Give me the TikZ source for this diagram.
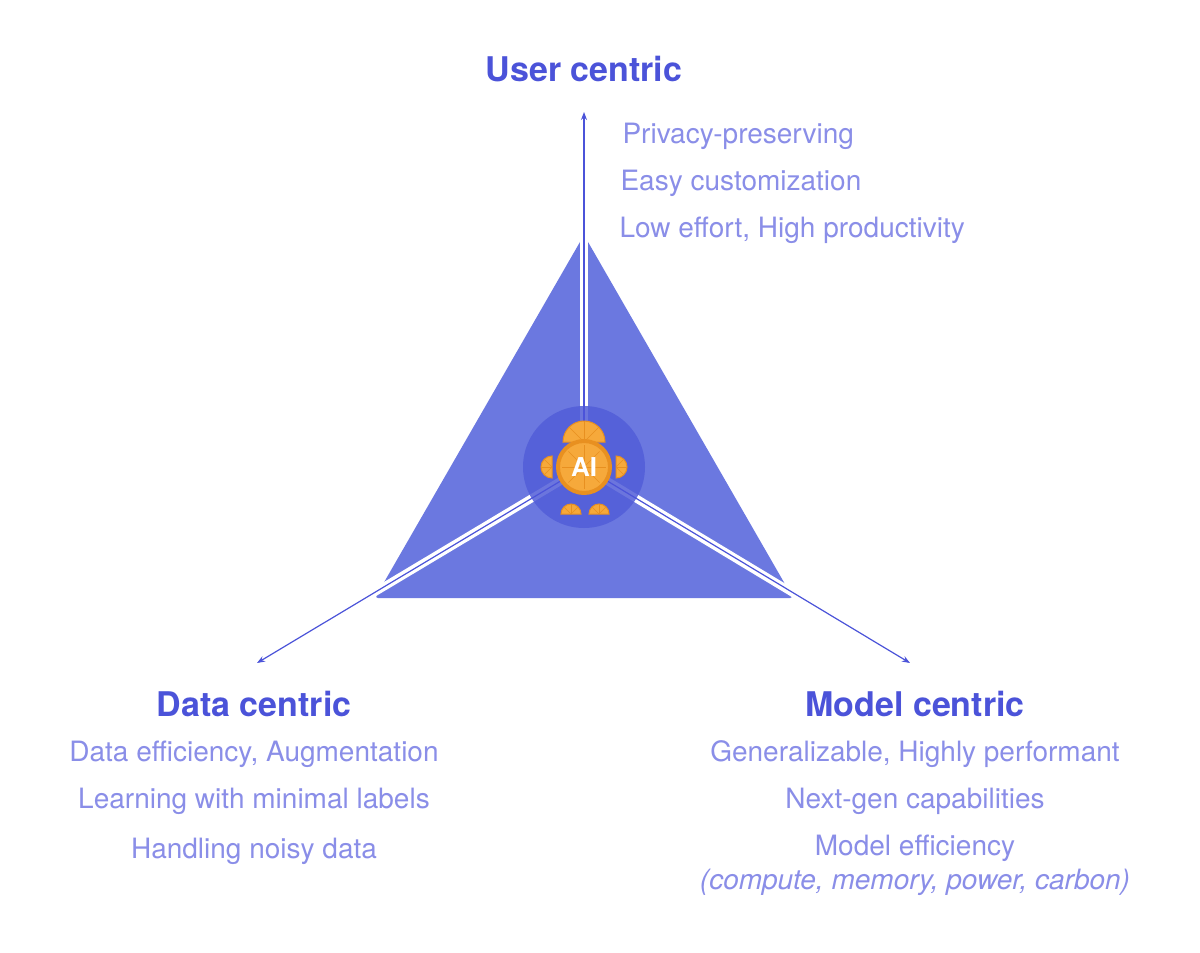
\documentclass[tikz,border=0pt]{standalone}
\usepackage{fontspec}
\setmainfont{TeX Gyre Heros}
\usetikzlibrary{arrows.meta}
\definecolor{tri}{HTML}{6B78E0}
\definecolor{ttl}{HTML}{4B53D9}
\definecolor{txt}{HTML}{8A8EE8}
\definecolor{circ}{HTML}{525DD8}
\definecolor{org}{HTML}{F6A93B}
\definecolor{orgd}{HTML}{E89020}
\tikzset{
 ttlnode/.style={text=ttl,font=\fontsize{34}{38}\selectfont\bfseries},
 txtnode/.style={text=txt,font=\fontsize{28}{32}\selectfont,align=center},
 axis/.style={draw=ttl,line width=1.2pt,-{Stealth[length=8pt,width=6pt]}},
 gap/.style={draw=white,line width=8pt},
 slice/.style={fill=org,draw=orgd,line width=1pt}
}
\newcommand{\halfdisk}[4]{% center x, y, radius, start angle
 \fill[slice] (#1,#2) -- +(#4:#3) arc[start angle=#4,delta angle=180,radius=#3] -- cycle;
 \foreach \k in {45,90,135}{\draw[orgd,line width=0.6pt] (#1,#2) -- +(#4+\k:#3);}
}
\begin{document}
\begin{tikzpicture}[x=1pt,y=-1pt]
\useasboundingbox (0,0) rectangle (1200,953);
\fill[white] (0,0) rectangle (1200,953);
\coordinate (c) at (584,467);
\coordinate (top) at (584,112);
\coordinate (bl) at (257,663);
\coordinate (br) at (910,663);
\fill[tri,rounded corners=3pt] (584,235) -- (793,598) -- (375,598) -- cycle;
\draw[gap] (c) -- (584,228);
\draw[gap] (c) -- (370,595);
\draw[gap] (c) -- (798,596);
\fill[circ,opacity=0.85] (c) circle (61);
\draw[axis] (c) -- (top);
\draw[axis] (c) -- (bl);
\draw[axis] (c) -- (br);
% robot
\halfdisk{584}{442}{21}{180}
\halfdisk{571}{514}{10}{180}
\halfdisk{599}{514}{10}{180}
\halfdisk{552}{467}{11}{90}
\halfdisk{616}{467}{11}{-90}
\draw[fill=org,draw=orgd,line width=4pt] (c) circle (26);
\foreach \t in {0,45,...,315}{\draw[orgd,line width=0.6pt] (c) -- ++(\t:22);}
\node (ai) at (c) {\color{white}\fontsize{26}{28}\selectfont\bfseries AI};
% titles
\node[ttlnode] (u) at (584,69) {User centric};
\node[ttlnode] (d) at (254,704) {Data centric};
\node[ttlnode] (m) at (915,704) {Model centric};
\node[txtnode,anchor=west] (u1) at (619,136) {Privacy-preserving};
\node[txtnode,anchor=west] (u2) at (617,183) {Easy customization};
\node[txtnode,anchor=west] (u3) at (616,230) {Low effort, High productivity};
\node[txtnode] (d1) at (254,754) {Data efficiency, Augmentation};
\node[txtnode] (d2) at (254,801) {Learning with minimal labels};
\node[txtnode] (d3) at (254,851) {Handling noisy data};
\node[txtnode] (m1) at (915,754) {Generalizable, Highly performant};
\node[txtnode] (m2) at (915,801) {Next-gen capabilities};
\node[txtnode] (m3) at (915,848) {Model efficiency};
\node[txtnode] (m4) at (915,882) {\itshape(compute, memory, power, carbon)};
\end{tikzpicture}
\end{document}
